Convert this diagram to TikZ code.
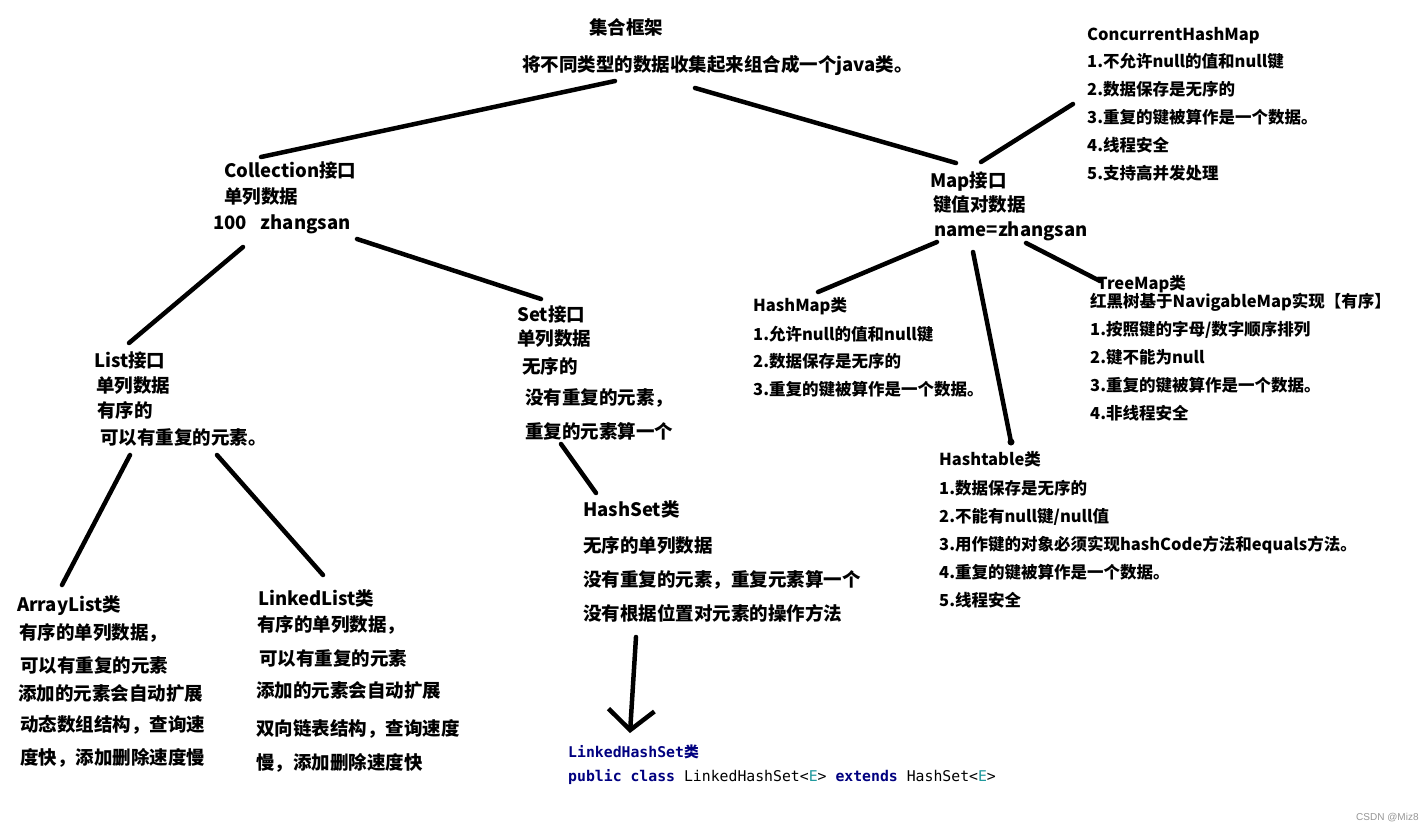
\documentclass[tikz,border=0pt]{standalone}
\usepackage{fontspec}
\setmainfont{Noto Sans CJK SC}
\newfontfamily\codefont{DejaVu Sans Mono}
\newfontfamily\marksans{Liberation Sans}
\usetikzlibrary{arrows.meta}

\definecolor{codenavy}{RGB}{0,0,128}
\definecolor{codetype}{RGB}{32,153,157}
\definecolor{markgray}{RGB}{150,150,150}

\tikzset{
  big/.style={anchor=base west, inner sep=0pt, font=\fontsize{18.5}{22}\selectfont\bfseries},
  small/.style={anchor=base west, inner sep=0pt, font=\fontsize{16.5}{20}\selectfont\bfseries},
  code/.style={anchor=base west, inner sep=0pt, font=\codefont\fontsize{14.8}{18}\selectfont},
  link/.style={line width=4.5pt, line cap=round},
}

\begin{document}
\begin{tikzpicture}[x=1pt,y=-1pt]
    \fill[white] (0,0) rectangle (1426,833);
    \useasboundingbox (0,0) rectangle (1426,833);

    % Root
    \node[big] (root1) at (589,34) {集合框架};
    \node[big] (root2) at (522,71) {将不同类型的数据收集起来组合成一个java类。};

    % Collection side
    \foreach \x/\y/\t [count=\i] in {
        224/177/Collection接口,
        224/203/单列数据,
        213/229/{100\hspace{0.75em}zhangsan}}
      \node[big] (coll\i) at (\x,\y) {\t};

    \foreach \x/\y/\t [count=\i] in {
        94/367/List接口,
        96/392/单列数据,
        97/417/有序的,
        100/444/可以有重复的元素。}
      \node[big] (list\i) at (\x,\y) {\t};

    \foreach \x/\y/\t [count=\i] in {
        517/321/Set接口,
        517/345/单列数据,
        522/373/无序的,
        525/404/没有重复的元素，,
        525/438/重复的元素算一个}
      \node[big] (set\i) at (\x,\y) {\t};

    \foreach \x/\y/\t [count=\i] in {
        17/611/ArrayList类,
        19/639/有序的单列数据，,
        20/672/可以有重复的元素,
        18/700/添加的元素会自动扩展,
        20/731/动态数组结构，查询速,
        20/764/度快，添加删除速度慢}
      \node[big] (alist\i) at (\x,\y) {\t};

    \foreach \x/\y/\t [count=\i] in {
        258/605/LinkedList类,
        257/631/有序的单列数据，,
        259/665/可以有重复的元素,
        256/697/添加的元素会自动扩展,
        256/735/双向链表结构，查询速度,
        256/769/慢，添加删除速度快}
      \node[big] (llist\i) at (\x,\y) {\t};

    \foreach \x/\y/\t [count=\i] in {
        583/516/HashSet类,
        583/552/无序的单列数据,
        583/586/没有重复的元素，重复元素算一个,
        583/620/没有根据位置对元素的操作方法}
      \node[big] (hset\i) at (\x,\y) {\t};

    \node[code, text=codenavy] (lhset1) at (568,757)
      {\bfseries LinkedHashSet{\rmfamily 类}};
    \node[code] (lhset2) at (568,781)
      {{\color{codenavy}\bfseries public class} LinkedHashSet<{\color{codetype}E}> {\color{codenavy}\bfseries extends} HashSet<{\color{codetype}E}>};

    % Map side
    \foreach \x/\y/\t [count=\i] in {
        930/187/Map接口,
        933/211/键值对数据,
        934/236/name=zhangsan}
      \node[big] (map\i) at (\x,\y) {\t};

    \foreach \y/\t [count=\i] in {
        40/ConcurrentHashMap,
        67/1.不允许null的值和null键,
        95/2.数据保存是无序的,
        123/3.重复的键被算作是一个数据。,
        151/4.线程安全,
        179/5.支持高并发处理}
      \node[small] (chm\i) at (1087,\y) {\t};

    \foreach \y/\t [count=\i] in {
        311/HashMap类,
        340/1.允许null的值和null键,
        367/2.数据保存是无序的,
        395/3.重复的键被算作是一个数据。}
      \node[small] (hmap\i) at (753,\y) {\t};

    \foreach \x/\y/\t [count=\i] in {
        1097/289/TreeMap类,
        1090/307/红黑树基于NavigableMap实现【有序】,
        1090/335/{1.按照键的字母/数字顺序排列},
        1090/363/2.键不能为null,
        1090/391/3.重复的键被算作是一个数据。,
        1090/419/4.非线程安全}
      \node[small] (tmap\i) at (\x,\y) {\t};

    \foreach \y/\t [count=\i] in {
        465/Hashtable类,
        494/1.数据保存是无序的,
        522/{2.不能有null键/null值},
        550/3.用作键的对象必须实现hashCode方法和equals方法。,
        578/4.重复的键被算作是一个数据。,
        606/5.线程安全}
      \node[small] (htab\i) at (939,\y) {\t};

    % Line ends
    \coordinate (rootL) at (615,81);
    \coordinate (rootR) at (695,88);
    \coordinate (collT) at (261,157);
    \coordinate (collL) at (243,247);
    \coordinate (collR) at (357,239);
    \coordinate (listT) at (129,343);
    \coordinate (listL) at (130,455);
    \coordinate (listR) at (217,455);
    \coordinate (setT) at (541,299);
    \coordinate (setB) at (561,444);
    \coordinate (alistT) at (62,585);
    \coordinate (llistT) at (323,575);
    \coordinate (hsetT) at (596,493);
    \coordinate (hsetB) at (636,637);
    \coordinate (lhsetT) at (630,733);
    \coordinate (mapT) at (956,163);
    \coordinate (mapTR) at (981,162);
    \coordinate (mapL) at (937,242);
    \coordinate (mapB) at (973,252);
    \coordinate (mapR) at (1026,243);
    \coordinate (chmB) at (1073,104);
    \coordinate (hmapT) at (818,292);
    \coordinate (htabT) at (1011,442);
    \coordinate (tmapL) at (1100,281);

    % Links
    \draw[link] (rootL) -- (collT);
    \draw[link] (rootR) -- (mapT);
    \draw[link] (collL) -- (listT);
    \draw[link] (collR) -- (setT);
    \draw[link] (listL) -- (alistT);
    \draw[link] (listR) -- (llistT);
    \draw[link] (setB) -- (hsetT);
    \draw[link, -{Straight Barb[length=20pt, width=46pt]}] (hsetB) -- (lhsetT);
    \draw[link] (mapTR) -- (chmB);
    \draw[link] (mapL) -- (hmapT);
    \draw[link] (mapB) -- (htabT);
    \fill (htabT) circle (3.5pt);
    \draw[link] (mapR) -- (tmapL);

    \node[anchor=base west, inner sep=0pt, font=\marksans\fontsize{10}{12}\selectfont, text=markgray] (mark) at (1356,820) {CSDN @Miz8};
\end{tikzpicture}
\end{document}
